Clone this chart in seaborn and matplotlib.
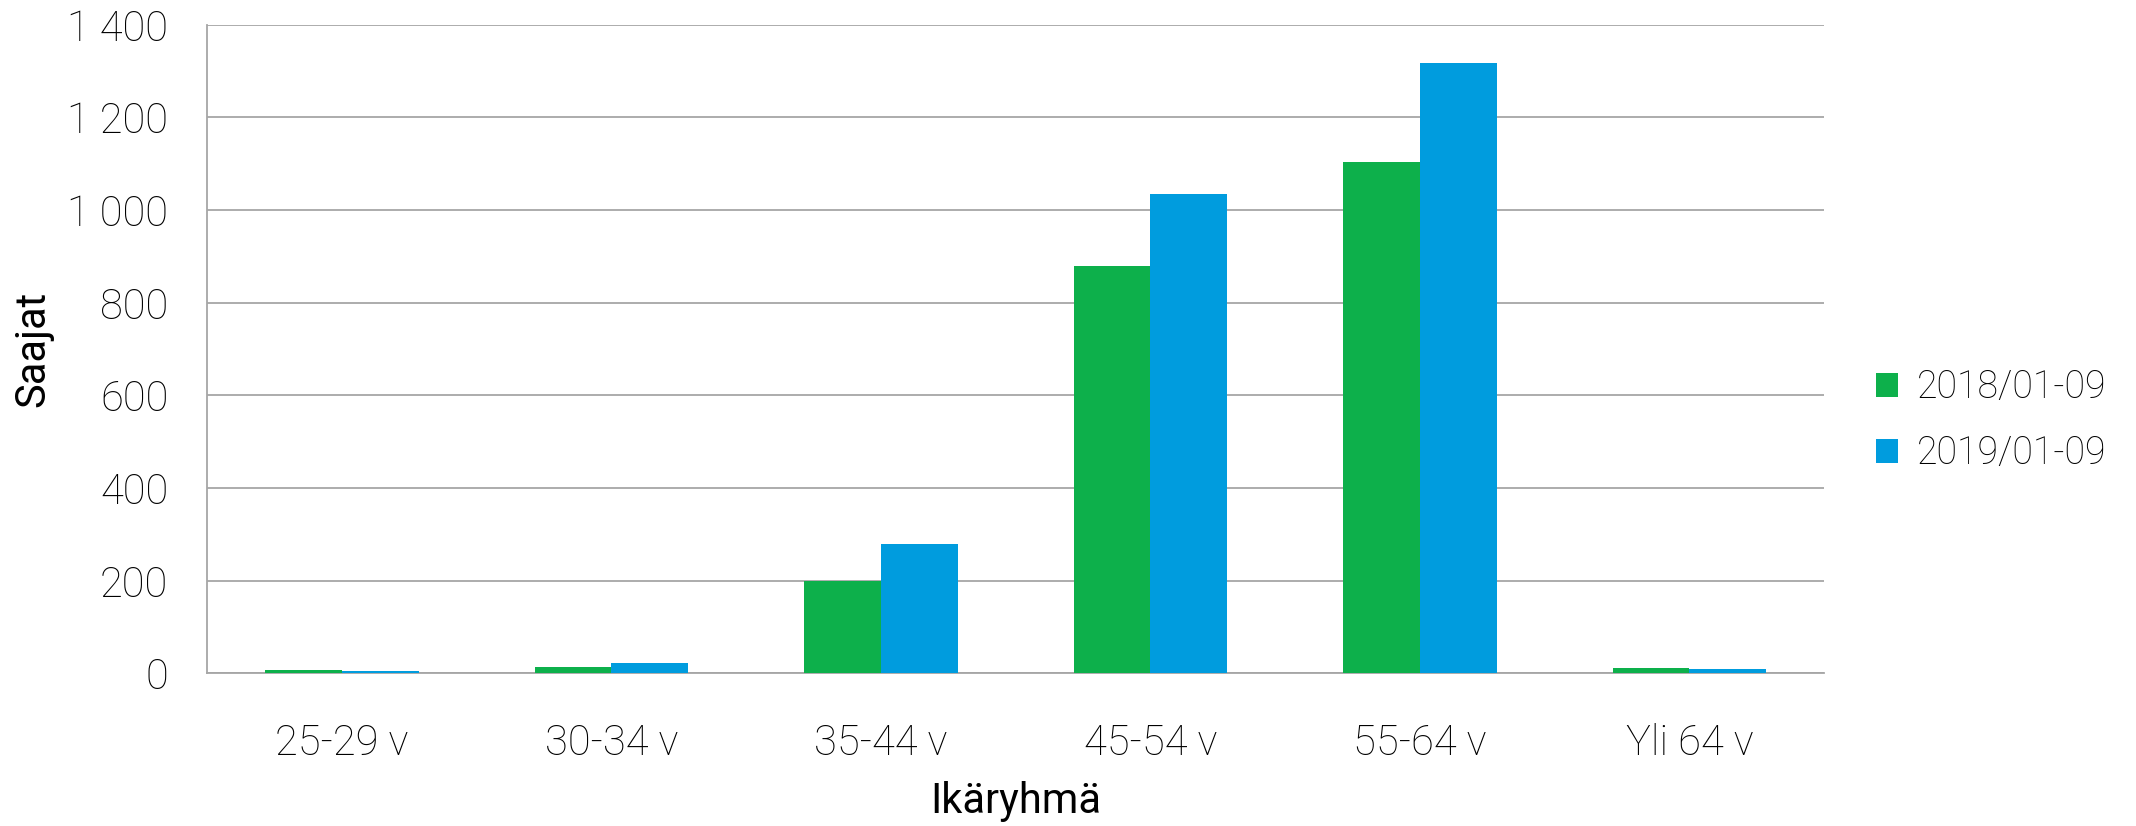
import matplotlib
matplotlib.use("Agg")
import matplotlib.pyplot as plt
import seaborn as sns
import pandas as pd
import numpy as np

categories = ["25-29 v", "30-34 v", "35-44 v", "45-54 v", "55-64 v", "Yli 64 v"]
series_names = ["2018/01-09", "2019/01-09"]
values_2018 = [6, 13, 200, 880, 1103, 11]
values_2019 = [4, 21, 280, 1034, 1318, 9]
y_ticks = [0, 200, 400, 600, 800, 1000, 1200, 1400]
y_tick_labels = ["0", "200", "400", "600", "800", "1 000", "1 200", "1 400"]
colors = ["#0DB04B", "#009CDE"]

df = pd.DataFrame({
    "Ikäryhmä": categories * 2,
    "Saajat": values_2018 + values_2019,
    "Sarja": [series_names[0]] * len(categories) + [series_names[1]] * len(categories),
})

sns.set_theme(style="white")
plt.rcParams['font.family'] = ['Roboto', 'DejaVu Sans']
plt.rcParams['text.color'] = 'black'
plt.rcParams['xtick.color'] = 'black'
plt.rcParams['ytick.color'] = 'black'
plt.rcParams['axes.labelcolor'] = 'black'

fig = plt.figure(figsize=(21.36, 8.26), dpi=100)
ax = fig.add_axes([0.097, 0.185, 0.757, 0.785])

sns.barplot(data=df, x="Ikäryhmä", y="Saajat", hue="Sarja", palette=colors,
            width=0.57, dodge=True, ax=ax, saturation=1, linewidth=0, zorder=3)

ax.set_ylim(0, 1400)
ax.set_xlim(-0.5, len(categories) - 0.5)
ax.set_yticks(y_ticks)
ax.set_yticklabels(y_tick_labels, fontsize=30, fontweight='light', color='black')
ax.yaxis.grid(True, color="#A6A6A6", linewidth=1.3, zorder=0)
ax.set_axisbelow(True)

ax.set_xticks(range(len(categories)))
ax.set_xticklabels(categories, fontsize=30, fontweight='light', color='black')
ax.tick_params(axis='x', which='major', length=0, pad=36)
ax.set_xticks(np.arange(-0.5, len(categories), 1.0), minor=True)
ax.tick_params(axis='x', which='minor', length=14, width=1.3, color="#A6A6A6", direction='out')
ax.tick_params(axis='y', length=14, width=1.3, color="#A6A6A6", labelcolor='black', direction='out', pad=14)

for s in ["top", "right"]:
    ax.spines[s].set_visible(False)
for s in ["left", "bottom"]:
    ax.spines[s].set_color("#A6A6A6")
    ax.spines[s].set_linewidth(1.3)

ax.set_xlabel("Ikäryhmä", fontsize=30, labelpad=12, color='black')
ax.set_ylabel("Saajat", fontsize=30, color='black')
ax.yaxis.set_label_coords(-0.095, 0.5)

leg = ax.legend(title=None, loc="center left", bbox_to_anchor=(1.032, 0.39), frameon=False,
                borderaxespad=0, borderpad=0,
                fontsize=27, handlelength=0.6, handleheight=0.6, handletextpad=0.5, labelspacing=0.75)
for t in leg.get_texts():
    t.set_fontweight('light')
    t.set_color('black')

fig.savefig("out.png", dpi=100)
